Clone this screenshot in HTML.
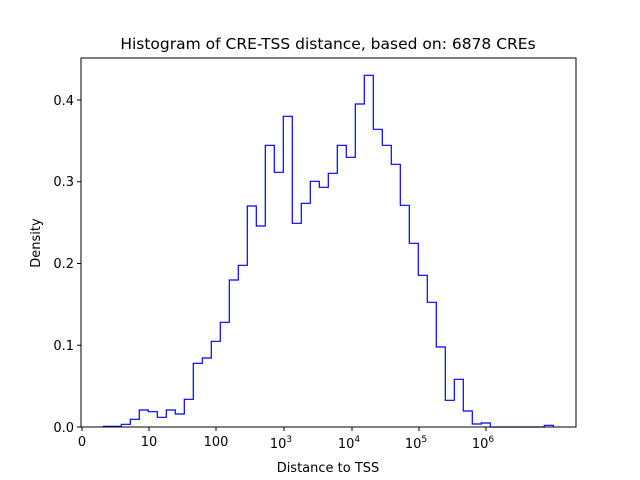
<!DOCTYPE html>
<html><head><meta charset="utf-8"><style>body{margin:0;background:#fff}svg{display:block}text{font-family:"DejaVu Sans","Liberation Sans",sans-serif;fill:#000}</style></head><body>
<svg width="640" height="480" xmlns="http://www.w3.org/2000/svg">
<rect x="0" y="0" width="640" height="480" fill="#fff"/>
<polyline fill="none" stroke="#0000ff" stroke-width="1.2" points="103.3,427 103.3,426.3 121.3,426.3 121.3,424.3 130.3,424.3 130.3,419.3 139.3,419.3 139.3,410 148.3,410 148.3,411.7 157.3,411.7 157.3,417.3 166.3,417.3 166.3,410 175.3,410 175.3,414 184.3,414 184.3,399.3 193.3,399.3 193.3,363.3 202.3,363.3 202.3,358 211.3,358 211.3,341.3 220.3,341.3 220.3,322.3 229.3,322.3 229.3,280 238.3,280 238.3,265.3 247.3,265.3 247.3,206 256.3,206 256.3,226 265.3,226 265.3,145.3 274.3,145.3 274.3,172.3 283.3,172.3 283.3,116.3 292.3,116.3 292.3,223.3 301.3,223.3 301.3,203.3 310.3,203.3 310.3,181.3 319.3,181.3 319.3,187.3 328.3,187.3 328.3,173.3 337.3,173.3 337.3,145.3 346.3,145.3 346.3,157.3 355.3,157.3 355.3,104 364.3,104 364.3,75.3 373.3,75.3 373.3,129.3 382.3,129.3 382.3,145.3 391.3,145.3 391.3,164.3 400.3,164.3 400.3,205.3 409.3,205.3 409.3,243.3 418.3,243.3 418.3,275.3 427.3,275.3 427.3,302.3 436.3,302.3 436.3,347 445.3,347 445.3,400.3 454.3,400.3 454.3,379.3 463.3,379.3 463.3,411 472.3,411 472.3,424 481.3,424 481.3,423 490.3,423 490.3,427 544.3,427 544.3,425.3 553.3,425.3 553.3,427"/>
<rect x="81" y="58" width="495" height="369" fill="none" stroke="#000" stroke-width="1"/>
<g stroke="#000" stroke-width="1">
<line x1="82" y1="427" x2="82" y2="431"/><line x1="149" y1="427" x2="149" y2="431"/><line x1="216" y1="427" x2="216" y2="431"/><line x1="284" y1="427" x2="284" y2="431"/><line x1="352" y1="427" x2="352" y2="431"/><line x1="419" y1="427" x2="419" y2="431"/><line x1="486" y1="427" x2="486" y2="431"/>
<line x1="77" y1="427" x2="81" y2="427"/><line x1="77" y1="345.25" x2="81" y2="345.25"/><line x1="77" y1="263.5" x2="81" y2="263.5"/><line x1="77" y1="181.75" x2="81" y2="181.75"/><line x1="77" y1="100" x2="81" y2="100"/>
</g>
<g font-size="13" text-anchor="middle">
<text x="82" y="446">0</text><text x="149" y="446">10</text><text x="216" y="446">100</text>
<text x="281" y="448">10<tspan font-size="9" dy="-6">3</tspan></text>
<text x="349" y="448">10<tspan font-size="9" dy="-6">4</tspan></text>
<text x="416" y="448">10<tspan font-size="9" dy="-6">5</tspan></text>
<text x="483" y="448">10<tspan font-size="9" dy="-6">6</tspan></text>
</g>
<g font-size="13" text-anchor="end">
<text x="74" y="432">0.0</text><text x="74" y="350">0.1</text><text x="74" y="268">0.2</text><text x="74" y="186">0.3</text><text x="74" y="105">0.4</text>
</g>
<text x="328" y="472" font-size="13" text-anchor="middle">Distance to TSS</text>
<text transform="translate(40,243) rotate(-90)" font-size="13" text-anchor="middle">Density</text>
<text x="328" y="49" font-size="15.5" text-anchor="middle">Histogram of CRE-TSS distance, based on: 6878 CREs</text>
</svg>
</body></html>
